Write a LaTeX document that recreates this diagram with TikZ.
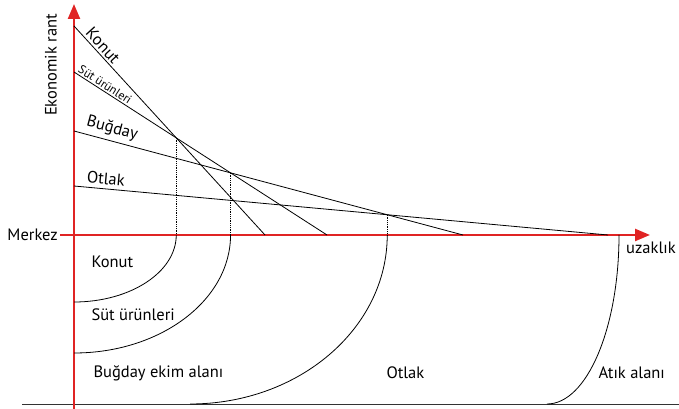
\documentclass[tikz,border=0pt]{standalone}
\usepackage{fontspec}
\setmainfont{PT Sans}
\usetikzlibrary{arrows.meta}
\definecolor{axisred}{HTML}{E02424}

\begin{document}
\begin{tikzpicture}[x=1pt, y=1pt, font=\fontsize{16.5}{19}\selectfont]
\useasboundingbox (0,0) rectangle (679,409);

% Axis heights: centre line and bottom line
\def\ya{174}
\def\yb{5}

% --- End points of the rent lines ---
\coordinate (o) at (74,\ya);
\coordinate (k1) at (74,383);  \coordinate (k2) at (265,\ya);
\coordinate (s1) at (74,337);  \coordinate (s2) at (327,\ya);
\coordinate (b1) at (74,278);  \coordinate (b2) at (463,\ya);
\coordinate (t1) at (74,223);  \coordinate (t2) at (608,\ya);

% Crossing points of neighbouring lines
\coordinate (ks) at (intersection of k1--k2 and s1--s2);
\coordinate (sb) at (intersection of s1--s2 and b1--b2);
\coordinate (bt) at (intersection of b1--b2 and t1--t2);

% --- Axes ---
\node[anchor=east, inner sep=2pt] (merkez) at (60,\ya) {Merkez};
\node[anchor=west, inner sep=1pt] (uzak) at (625,161) {uzaklık};
\node[rotate=90] (rant) at (51,344) {Ekonomik rant};

\draw[line width=0.9pt, black!80] (22,\yb) -- (679,\yb);
\draw[axisred, line width=2.4pt, -{Triangle[length=15pt,width=12pt]}] (74,0) -- (74,405);
\draw[axisred, line width=2.4pt, -{Triangle[length=15pt,width=12pt]}] (merkez.east) -- (650,\ya);

% --- Rent lines ---
\draw[thick] (k1) -- (k2) node[pos=0.12, sloped, above, inner sep=2pt] {Konut};
\draw[thick] (s1) -- (s2) node[pos=0.11, sloped, above, inner sep=1.5pt, font=\fontsize{12}{14}\selectfont] {Süt ürünleri};
\draw[thick] (b1) -- (b2) node[pos=0.09, sloped, above, inner sep=4pt] {Buğday};
\draw[thick] (t1) -- (t2) node[pos=0.058, sloped, above, inner sep=4pt] {Otlak};

% Projections down to the axis
\draw[densely dotted, thick] (ks) -- (ks |- o);
\draw[densely dotted, thick] (sb) -- (sb |- o);
\draw[densely dotted, thick] (bt) -- (bt |- o);

% --- Land use rings ---
\draw[thick] (ks |- o) arc[start angle=0, end angle=-90, x radius=102.2, y radius=67];
\draw[thick] (sb |- o) arc[start angle=0, end angle=-90, x radius=156.5, y radius=118];
\draw[thick] (bt |- o) arc[start angle=0, end angle=-90, x radius=197.2, y radius=169];
\draw[thick] (619,\ya) arc[start angle=0, end angle=-90, x radius=72, y radius=169];

% Ring labels
\node[anchor=west] (zk) at (88,147) {Konut};
\node[anchor=west] (zs) at (88,94) {Süt ürünleri};
\node[anchor=west] (zb) at (90,36) {Buğday ekim alanı};
\node[anchor=west] (zo) at (383,36) {Otlak};
\node[anchor=west] (za) at (595,36) {Atık alanı};

\end{tikzpicture}
\end{document}
